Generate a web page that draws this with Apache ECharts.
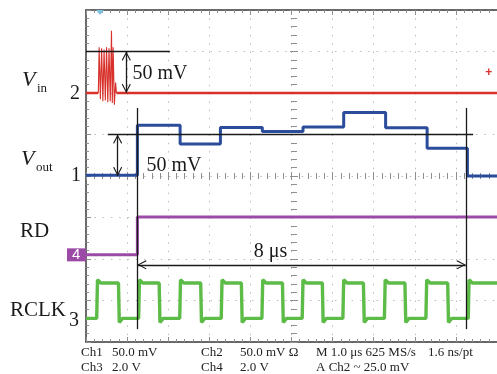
<!DOCTYPE html>
<html><head><meta charset="utf-8">
<script src="https://cdn.jsdelivr.net/npm/echarts@6/dist/echarts.min.js"></script>
<style>html,body{margin:0;padding:0;background:#fff}#c{width:497px;height:374px}</style>
</head><body><div id="c"></div><script>
// Horizontal: time in µs from left screen edge (1.0 µs/div). Vertical: divisions from bottom.
const divX = [0, 10];
const divY = [0, 8];
const vinBaseTime  = [0, 0.30, 0.74, 10];
const vinBaseLevel = [6, 6, 6, 6];
const vinBurstTime  = [0.30, 0.32, 0.35, 0.38, 0.41, 0.44, 0.47, 0.50, 0.53, 0.56, 0.59, 0.62, 0.64, 0.66, 0.69, 0.72, 0.74];
const vinBurstLevel = [6, 7.1, 5.85, 7.08, 5.8, 7.05, 5.82, 7.1, 5.78, 7.08, 5.8, 7.5, 5.76, 7.1, 5.72, 6.25, 6];
const voutEdges  = [0, 1.25, 2.29, 3.27, 4.29, 5.28, 6.27, 7.29, 8.3, 9.28, 10];
const voutLevels = [4.02, 5.22, 4.77, 5.17, 5.07, 5.18, 5.53, 5.16, 4.67, 4.0];
const rdEdges  = [0, 1.25, 10];
const rdLevels = [2.1, 3.01];
const clkRise = [0.26, 1.28, 2.28, 3.29, 4.28, 5.26, 6.25, 7.26, 8.27, 9.3];
const clkFall = [0.79, 1.78, 2.79, 3.78, 4.78, 5.75, 6.75, 7.76, 8.8];
const clkLevels = {low: 0.57, high: 1.42, over: 1.5, under: 0.47};
const groundMarks = {vin: 6, vout: 4, rd: 2.1, rclk: 0.57};
const vinRef = {from: 0, to: 2.04, level: 7, arrowAt: 0.98};
const voutRef = {from: 0.53, to: 9.42, level: 5, arrowAt: 0.77};
const cursors = {t1: 1.25, t2: 9.24, top: 5.64, bottom: 0.31, arrowY: 1.86};
const texts = {vinAmp: '50 mV', voutAmp: '50 mV', span: '8 μs'};
const footer = [
  ['Ch1', '50.0 mV', 'Ch2', '50.0 mV Ω', 'M 1.0 μs 625 MS/s', '1.6 ns/pt'],
  ['Ch3', '2.0 V', 'Ch4', '2.0 V', 'A Ch2 ~ 25.0 mV', '']
];

const serif = '"Liberation Serif","Times New Roman",serif';
const C = {red:'#d8312b', blue:'#2b4c9b', purple:'#9b4ba6', green:'#5dbb48', frame:'#3a3a3a', tick:'#8f8f8f', grid:'#bdbdbd', ink:'#1a1a1a'};
const G = {left:86, top:10, width:416, height:332};

function stepPts(edges, levels){
  const p = [];
  for (let i = 0; i < levels.length; i++) { p.push([edges[i], levels[i]]); p.push([edges[i+1], levels[i]]); }
  return p;
}
function clkPts(){
  const p = [[0, clkLevels.low]];
  for (let i = 0; i < clkRise.length; i++) {
    const r = clkRise[i];
    p.push([r, clkLevels.low], [r + 0.02, clkLevels.over], [r + 0.1, clkLevels.high]);
    const f = clkFall[i];
    if (f !== undefined) p.push([f, clkLevels.high], [f + 0.02, clkLevels.under], [f + 0.1, clkLevels.low]);
  }
  p.push([divX[1], clkLevels.high]);
  return p;
}
const zip = (a, b) => a.map((t, i) => [t, b[i]]);
const vinBasePts = [zip(vinBaseTime.slice(0,2), vinBaseLevel.slice(0,2)), zip(vinBaseTime.slice(2), vinBaseLevel.slice(2))];

function frameAxis(dim, pos, split){
  return {type:'value', min: dim==='x'?divX[0]:divY[0], max: dim==='x'?divX[1]:divY[1], interval:1, position:pos,
    axisLine:{show:true, onZero:false, lineStyle:{color:C.frame, width:1.5}},
    axisTick:{show:true, inside:true, length:5, lineStyle:{color:C.tick}},
    minorTick:{show:true, splitNumber:5, length:3, lineStyle:{color:C.tick}},
    splitLine:{show:split, lineStyle:{color:C.grid, width:1, type:[1.5, 6.8]}},
    axisLabel:{show:false}};
}
function centerAxis(dim, inside){
  return {type:'value', min: dim==='x'?divX[0]:divY[0], max: dim==='x'?divX[1]:divY[1], interval:1,
    position: dim==='x'?'bottom':'left', offset: dim==='x' ? -G.height/2 : -208,
    axisLine:{show:false, onZero:false},
    axisTick:{show:true, inside:inside, length:4, lineStyle:{color:C.tick}},
    minorTick:{show:true, splitNumber:5, length:3, lineStyle:{color:C.tick}},
    splitLine:{show:false}, axisLabel:{show:false}};
}
const arrowSym = 'path://M5,0 M5,10 L10,18.5 L9,19.2 L5,12.2 L1,19.2 L0,18.5 Z M5,20';
const lineStyleRef = {color:C.ink, width:1.3, type:'solid'};
function seg(a, b, sym){
  return [{coord:a, symbol: sym ? arrowSym : 'none', symbolSize:[9,20]}, {coord:b, symbol: sym ? arrowSym : 'none', symbolSize:[9,20]}];
}
const trace = (name, data, color, width) => ({type:'line', name, data, showSymbol:false, lineStyle:{color, width}, z:3});

const chart = echarts.init(document.getElementById('c'));
chart.setOption({
  animation:false,
  backgroundColor:'#fff',
  grid:G,
  xAxis:[frameAxis('x','bottom',true), frameAxis('x','top',false), centerAxis('x',true), centerAxis('x',false)],
  yAxis:[frameAxis('y','left',true), centerAxis('y',true), centerAxis('y',false)],
  series:[
    trace('Vin', vinBasePts[0], C.red, 2.6),
    trace('Vin ', vinBasePts[1], C.red, 2.6),
    trace('Vin burst', zip(vinBurstTime, vinBurstLevel), C.red, 1.1),
    trace('Vout', stepPts(voutEdges, voutLevels), C.blue, 3),
    trace('RD', stepPts(rdEdges, rdLevels), C.purple, 3),
    trace('RCLK', clkPts(), C.green, 3.4),
    {type:'line', name:'annot', data:[], z:4,
      markLine:{silent:true, animation:false, symbol:'none', label:{show:false}, lineStyle:lineStyleRef, emphasis:{disabled:true},
        data:[
          seg([vinRef.from, vinRef.level],[vinRef.to, vinRef.level], false),
          seg([vinRef.arrowAt, vinRef.level],[vinRef.arrowAt, groundMarks.vin], true),
          seg([voutRef.from, voutRef.level],[voutRef.to, voutRef.level], false),
          seg([voutRef.arrowAt, voutRef.level],[voutRef.arrowAt, groundMarks.vout], true),
          seg([cursors.t1, cursors.top],[cursors.t1, cursors.bottom], false),
          seg([cursors.t2, cursors.top],[cursors.t2, cursors.bottom], false),
          seg([cursors.t1, cursors.arrowY],[cursors.t2, cursors.arrowY], true)
        ]}}
  ]
});

function px(t, d){ return chart.convertToPixel({xAxisIndex:0, yAxisIndex:0}, [t, d]); }
const big = {fontFamily:serif, fontSize:21, fill:C.ink};
const g = [];
function txt(x, y, s, style){ g.push({type:'text', x, y, silent:true, style:Object.assign({text:s, textVerticalAlign:'middle', verticalAlign:'middle'}, big, style||{}), z:10}); }

// amplitude / time annotations anchored to data coordinates
let p = px(1.13, 6.46); txt(p[0], p[1], texts.vinAmp, {fontSize:20});
p = px(1.47, 4.24); txt(p[0], p[1], texts.voutAmp, {fontSize:20});
p = px(4.08, 2.18); txt(p[0], p[1], texts.span, {fontSize:20});

// channel labels
txt(22, 80, 'V', {fontStyle:'italic', fontSize:22});
txt(37, 89, 'in', {fontSize:13});
txt(21, 159, 'V', {fontStyle:'italic', fontSize:22});
txt(36, 168, 'out', {fontSize:13});
txt(20, 231, 'RD', {fontSize:21});
txt(10, 310, 'RCLK', {fontSize:21});
// ground markers
p = px(0, groundMarks.vin); txt(70, p[1] + 1, '2', {fontSize:20});
p = px(0, groundMarks.vout); txt(71, p[1], '1', {fontSize:20});
p = px(0, groundMarks.rclk); txt(69, p[1] + 2, '3', {fontSize:20});
p = px(0, groundMarks.rd);
g.push({type:'rect', shape:{x:67, y:p[1]-6.5, width:19, height:13}, style:{fill:C.purple}, silent:true, z:9});
txt(72, p[1], '4', {fontSize:15, fontFamily:'"Liberation Sans",Arial,sans-serif', fill:'#fff'});
// trigger markers
g.push({type:'polygon', shape:{points:[[96,10],[104,10],[100,15]]}, style:{fill:'#7fbfe0'}, silent:true, z:9});
p = px(9.81, 6.5); txt(p[0] - 4, p[1], '+', {fontSize:12, fill:C.red, fontFamily:'"Liberation Sans",Arial,sans-serif', fontWeight:'bold'});

// footer
const cols = [81, 112, 201, 240, 316, 428];
const rows = [353, 368];
footer.forEach((row, r) => row.forEach((s, c) => { if (s) txt(cols[c], rows[r], s, {fontSize:13, fill:'#222'}); }));

chart.setOption({graphic:{elements:g}});
</script></body></html>
